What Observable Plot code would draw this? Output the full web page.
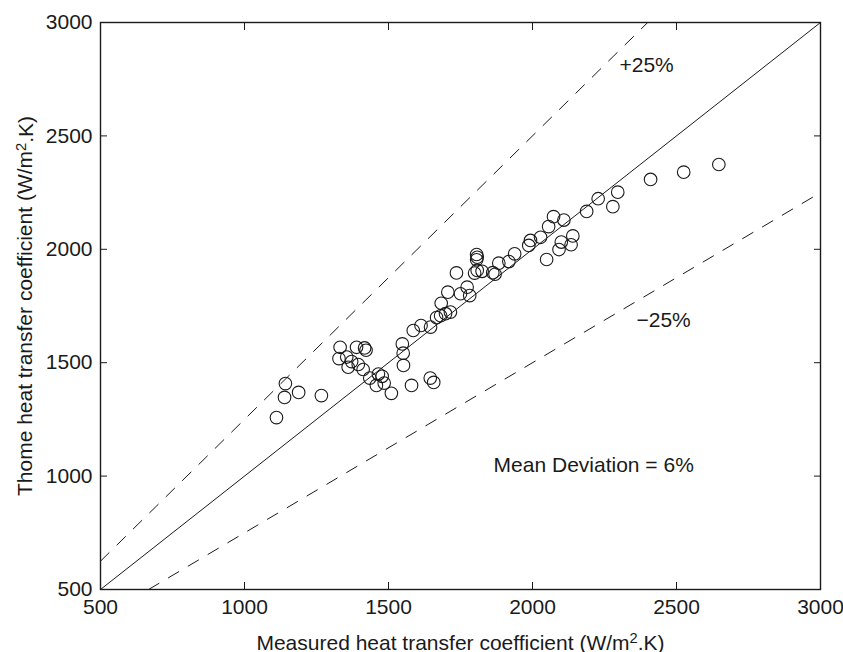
<!DOCTYPE html>
<html><head><meta charset="utf-8">
<script src="https://cdn.jsdelivr.net/npm/d3@7"></script>
<script src="https://cdn.jsdelivr.net/npm/@observablehq/plot@0.6"></script>
<style>body{margin:0;background:#fff;}</style>
</head><body><div id="chart"></div>
<script>
const measured = [1111,1142,1139,1188,1267,1332,1328,1355,1360,1372,1389,1395,1412,1417,1422,1435,1458,1465,1478,1485,1510,1548,1551,1552,1580,1586,1613,1646,1645,1657,1667,1681,1698,1715,1683,1706,1750,1773,1782,1736,1799,1808,1825,1806,1808,1806,1862,1870,1883,1918,1938,1987,1993,2028,2049,2056,2073,2092,2100,2109,2134,2140,2188,2228,2279,2296,2410,2525,2647];
const thome    = [1258,1408,1347,1369,1355,1568,1518,1525,1480,1505,1568,1492,1470,1565,1555,1432,1400,1450,1440,1410,1365,1583,1542,1488,1400,1642,1664,1657,1432,1413,1699,1707,1716,1723,1762,1811,1804,1833,1796,1896,1895,1907,1903,1977,1965,1954,1897,1890,1939,1946,1980,2017,2039,2053,1955,2100,2144,1999,2032,2129,2020,2059,2167,2223,2188,2252,2308,2340,2374];
const xTicks = [500,1000,1500,2000,2500,3000];
const yTicks = [500,1000,1500,2000,2500,3000];
const perfectX = [500,3000], perfectY = [500,3000];
const plusX = [500,2400], plusY = [625,3000];
const minusX = [667,3000], minusY = [500,2250];
const noteText = ["+25%","\u221225%","Mean Deviation = 6%"];
const noteX = [2302,2361,1865];
const noteY = [2810,1686,1047];

const points = measured.map((m,i)=>({m, t: thome[i]}));
const line = (xs,ys)=>xs.map((x,i)=>({x, y: ys[i]}));
const notes = noteText.map((s,i)=>({s, x: noteX[i], y: noteY[i]}));
const ink = "#1a1a1a";

const chart = Plot.plot({
  width: 843, height: 652,
  marginLeft: 100, marginRight: 23, marginTop: 22, marginBottom: 63,
  style: {fontFamily: "'Liberation Sans', Arial, sans-serif", fontSize: "20px", color: ink, background: "#fff", overflow: "visible"},
  x: {domain: [500,3000]},
  y: {domain: [500,3000]},
  marks: [
    Plot.line(line(perfectX,perfectY), {x:"x", y:"y", stroke: ink, strokeWidth: 1, clip: true}),
    Plot.line(line(plusX,plusY), {x:"x", y:"y", stroke: ink, strokeWidth: 1, strokeDasharray: "12,11", clip: true}),
    Plot.line(line(minusX,minusY), {x:"x", y:"y", stroke: ink, strokeWidth: 1, strokeDasharray: "12,11", clip: true}),
    Plot.dot(points, {x:"m", y:"t", r: 6.3, stroke: ink, strokeWidth: 1.1, fill: "none"}),
    Plot.text(notes, {x:"x", y:"y", text:"s", textAnchor:"start", fontSize: 21, fill: ink}),
    Plot.axisX(xTicks, {anchor:"bottom", tickSize: -7, tickPadding: 17, tickFormat: "d", label: "Measured heat transfer coefficient (W/m2.K)", labelAnchor: "center", labelOffset: 60, fontSize: 21}),
    Plot.axisX(xTicks, {anchor:"top", tickSize: -7, tickFormat: () => "", label: null}),
    Plot.axisY(yTicks, {anchor:"left", tickSize: -7, tickPadding: 15, tickFormat: "d", label: "Thome heat transfer coefficient (W/m2.K)", labelAnchor: "center", labelOffset: 83, fontSize: 21}),
    Plot.axisY(yTicks, {anchor:"right", tickSize: -7, tickFormat: () => "", label: null}),
    Plot.frame({stroke: ink, strokeWidth: 1.4})
  ]
});
// superscript the "2" in the unit labels
chart.querySelectorAll("text").forEach(t => {
  const s = t.textContent;
  if (s.includes("(W/m2.K)")) {
    const [a] = s.split("(W/m2.K)");
    while (t.firstChild) t.removeChild(t.firstChild);
    const ns = "http://www.w3.org/2000/svg";
    const t1 = document.createElementNS(ns, "tspan"); t1.textContent = a + "(W/m";
    const t2 = document.createElementNS(ns, "tspan"); t2.textContent = "2"; t2.setAttribute("dy", "-0.45em"); t2.setAttribute("font-size", "0.7em");
    const t3 = document.createElementNS(ns, "tspan"); t3.textContent = ".K)"; t3.setAttribute("dy", "0.32em");
    t.append(t1, t2, t3);
  }
});
document.getElementById("chart").append(chart);
</script></body></html>
